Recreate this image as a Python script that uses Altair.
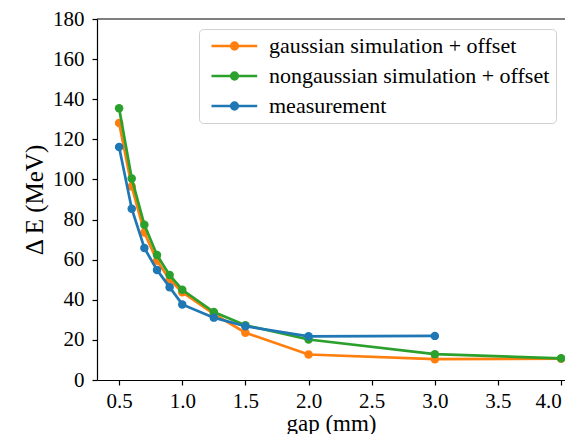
import altair as alt
import pandas as pd

# ---- data ----
x_sim = [0.5, 0.6, 0.7, 0.8, 0.9, 1.0, 1.25, 1.5, 2.0, 3.0, 4.0]
gauss = [128.1, 96.5, 73.5, 59.5, 50.0, 43.8, 33.0, 23.6, 12.7, 10.4, 10.6]
nongauss = [135.5, 100.5, 77.4, 62.3, 52.3, 45.0, 33.9, 27.3, 20.2, 12.9, 10.8]
x_meas = [0.5, 0.6, 0.7, 0.8, 0.9, 1.0, 1.25, 1.5, 2.0, 3.0]
meas = [116.2, 85.4, 65.8, 54.9, 46.3, 37.7, 31.1, 26.8, 21.8, 22.0]

series_names = ["gaussian simulation + offset",
                "nongaussian simulation + offset",
                "measurement"]
colors = ["#ff7f0e", "#2ca02c", "#1f77b4"]
x_ticks = [0.5, 1.0, 1.5, 2.0, 2.5, 3.0, 3.5, 4.0]
y_ticks = [0, 20, 40, 60, 80, 100, 120, 140, 160, 180]

rows = []
for xs, ys, name in [(x_sim, gauss, series_names[0]),
                     (x_sim, nongauss, series_names[1]),
                     (x_meas, meas, series_names[2])]:
    for x, y in zip(xs, ys):
        rows.append({"gap": x, "dE": y, "series": name})
df = pd.DataFrame(rows)

W, H = 468, 361
FONT = "Liberation Serif"

legend_path = ("M-0.9,0H8.24"
               "M3.96,0A0.26,0.26,0,1,1,3.44,0A0.26,0.26,0,1,1,3.96,0"
               "M4.36,0A0.66,0.66,0,1,1,3.04,0A0.66,0.66,0,1,1,4.36,0")

xscale = alt.Scale(domain=[0.325, 4.0305], nice=False, zero=False)
yscale = alt.Scale(domain=[0, 180], nice=False)
cscale = alt.Scale(domain=series_names, range=colors)

legend = alt.Legend(title=None, orient="none", legendX=102, legendY=10,
                    symbolType=legend_path, symbolSize=100,
                    symbolStrokeWidth=2.7,
                    labelFont=FONT, labelFontSize=22, labelColor="black",
                    labelLimit=400, labelOffset=42, padding=6, rowPadding=8,
                    strokeColor="#d0d0d0", fillColor="white", cornerRadius=4)

xenc = alt.X("gap:Q", scale=xscale,
             axis=alt.Axis(values=x_ticks, format=".1f", title="gap (mm)",
                           grid=False, tickSize=5, labelPadding=5,
                           titlePadding=1, titleFontSize=23,
                           labelFlush=6))
yenc = alt.Y("dE:Q", scale=yscale,
             axis=alt.Axis(values=y_ticks, title="Δ E (MeV)", grid=False,
                           tickSize=5, labelPadding=8, titlePadding=5,
                           titleFontSize=25))

base = alt.Chart(df)
layers = []
for name in series_names:
    sub = base.transform_filter(alt.datum.series == name)
    layers.append(sub.mark_line(strokeWidth=2.7).encode(
        x=xenc, y=yenc,
        stroke=alt.Stroke("series:N", scale=cscale, legend=legend)))
    layers.append(sub.mark_circle(size=72, opacity=1).encode(
        x=xenc, y=yenc,
        fill=alt.Fill("series:N", scale=cscale, legend=None)))

top_spine = alt.Chart(pd.DataFrame({"a": [0]})).mark_rule(
    color="black", strokeWidth=1.2).encode(
    x=alt.value(0), x2=alt.value(W), y=alt.value(0))

chart = alt.layer(*layers, top_spine).properties(
    width=W, height=H,
    autosize=alt.AutoSizeParams(type="none"),
    padding={"left": 89, "top": 11, "right": 0, "bottom": 54},
).configure_view(stroke=None).configure_axis(
    labelFont=FONT, labelFontSize=21, labelColor="black",
    titleFont=FONT, titleFontWeight="normal",
    titleColor="black", domainColor="black", domainWidth=1.2,
    tickColor="black", tickWidth=1.2,
)

chart.save("out.html", embed_options={"renderer": "svg", "actions": False})
